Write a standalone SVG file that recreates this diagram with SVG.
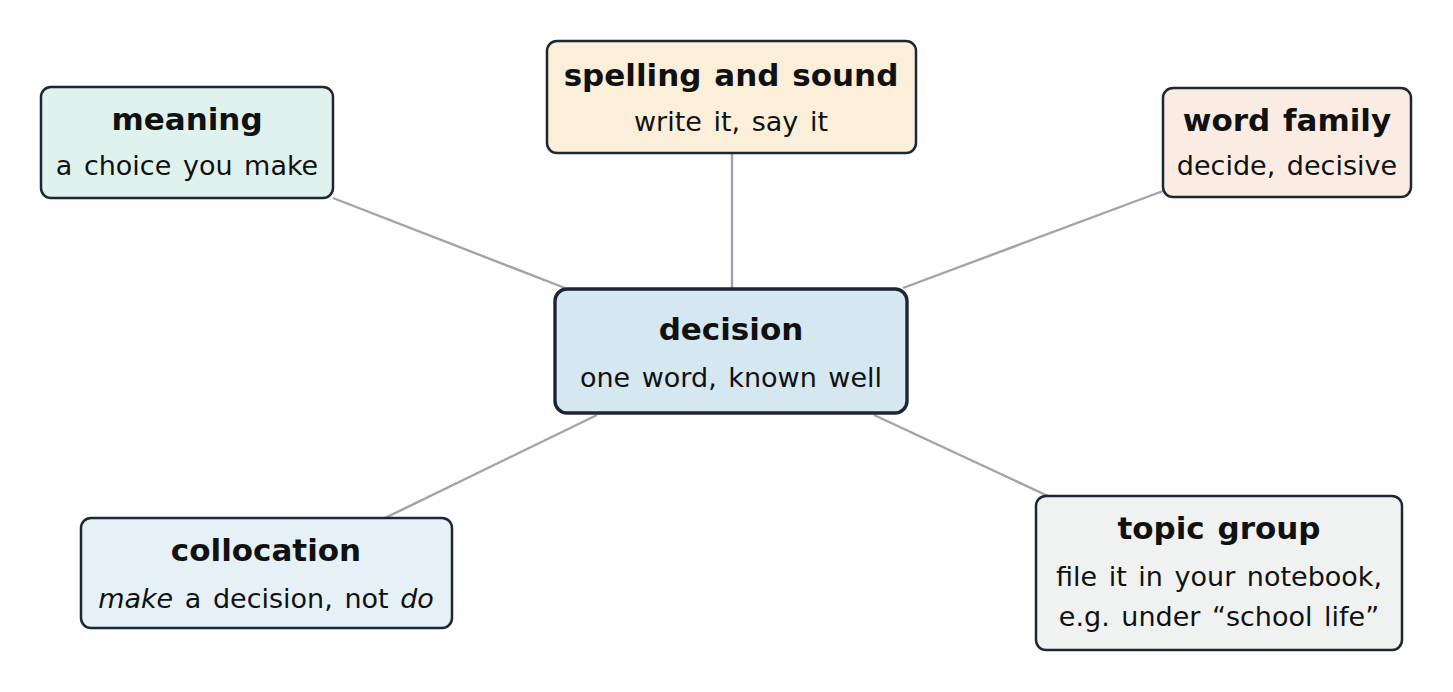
<svg xmlns="http://www.w3.org/2000/svg" width="1453" height="692" viewBox="0 0 1453 692">
<style>
.box{stroke:#1f2633;stroke-width:2.5}
.center{stroke-width:3.4}
.t{font-family:"DejaVu Sans",sans-serif;font-weight:bold;font-size:31px;fill:#111;text-anchor:middle;word-spacing:2px}
.s{font-family:"DejaVu Sans",sans-serif;font-size:27px;fill:#111;text-anchor:middle;word-spacing:3px}
.c line{stroke:#a2a2aa;stroke-width:2.4}
</style>
<rect width="1453" height="692" fill="#fff"/>
<g class="c" id="connectors">
<line x1="333" y1="198" x2="565" y2="288"/>
<line x1="732" y1="153" x2="732" y2="289"/>
<line x1="1163" y1="191" x2="903" y2="288"/>
<line x1="385" y1="518" x2="597" y2="415"/>
<line x1="874" y1="415" x2="1048" y2="496"/>
</g>
<g id="meaning">
<rect class="box" x="41" y="87" width="292" height="111" rx="10" fill="#e0f2ee"/>
<text class="t" x="187" y="130">meaning</text>
<text class="s" x="187" y="175">a choice you make</text>
</g>
<g id="spelling">
<rect class="box" x="547" y="41" width="369" height="112" rx="10" fill="#fbefd9"/>
<text class="t" x="731" y="86">spelling and sound</text>
<text class="s" x="731" y="131">write it, say it</text>
</g>
<g id="wordfamily">
<rect class="box" x="1163" y="88" width="248" height="109" rx="10" fill="#fbece3"/>
<text class="t" x="1287" y="131">word family</text>
<text class="s" x="1287" y="175">decide, decisive</text>
</g>
<g id="decision">
<rect class="box center" x="555" y="289" width="352" height="124" rx="12" fill="#d5e7f1"/>
<text class="t" x="731" y="340">decision</text>
<text class="s" x="731" y="387">one word, known well</text>
</g>
<g id="collocation">
<rect class="box" x="81" y="518" width="371" height="110" rx="10" fill="#e5f0f7"/>
<text class="t" x="266" y="561">collocation</text>
<text class="s" x="266" y="608"><tspan font-style="italic">make</tspan> a decision, not <tspan font-style="italic">do</tspan></text>
</g>
<g id="topic">
<rect class="box" x="1036" y="496" width="366" height="154" rx="10" fill="#eff2f1"/>
<text class="t" x="1219" y="539">topic group</text>
<text class="s" x="1219" y="586">file it in your notebook,</text>
<text class="s" x="1219" y="626">e.g. under “school life”</text>
</g>
</svg>
